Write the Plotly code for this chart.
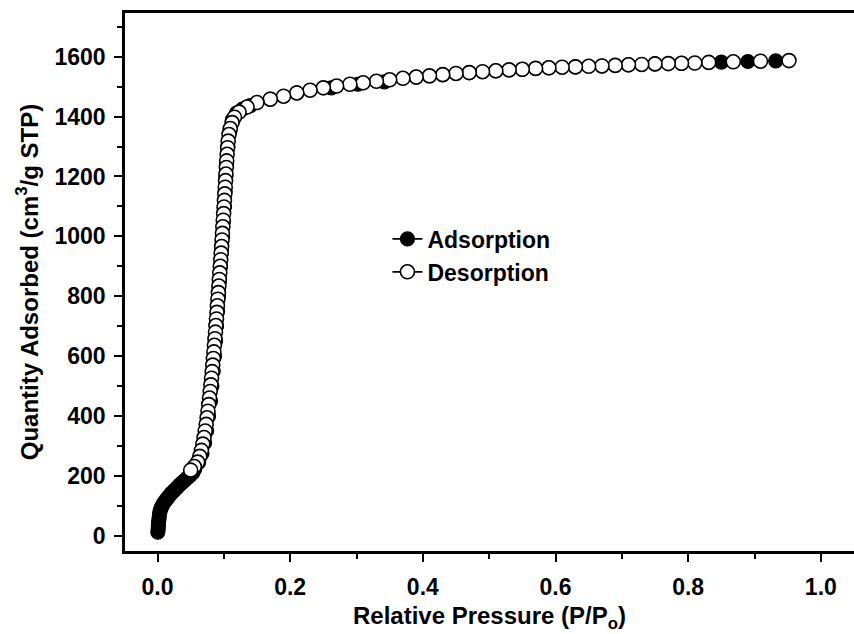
import plotly.graph_objects as go

# ---- data ----
ads_p = [0.0005, 0.001, 0.0012, 0.0015, 0.002, 0.0025, 0.003, 0.004, 0.005, 0.007,
         0.009, 0.012, 0.015, 0.018, 0.021, 0.025, 0.029, 0.033, 0.037, 0.041,
         0.045, 0.049, 0.053, 0.056, 0.062, 0.067, 0.071, 0.074, 0.077, 0.080,
         0.082, 0.084, 0.086, 0.0875, 0.089, 0.0905, 0.092, 0.0935, 0.095, 0.0965,
         0.098, 0.0995, 0.101, 0.102, 0.103, 0.104, 0.106, 0.109, 0.113, 0.119,
         0.128, 0.14, 0.17, 0.21, 0.262, 0.302, 0.342, 0.39, 0.43, 0.47,
         0.51, 0.55, 0.59, 0.63, 0.67, 0.71, 0.75, 0.79, 0.85, 0.89, 0.932]
ads_q = [12, 22, 32, 42, 52, 62, 72, 82, 91, 100,
         108, 117, 126, 134, 142, 151, 160, 169, 177, 185,
         193, 201, 210, 222, 245, 275, 310, 350, 400, 450,
         500, 550, 600, 650, 700, 750, 800, 850, 900, 950,
         1000, 1050, 1100, 1150, 1200, 1250, 1300, 1350, 1390, 1412,
         1425, 1437, 1458, 1479, 1496, 1508, 1516, 1532, 1540, 1547,
         1553, 1558, 1563, 1566, 1569, 1573, 1576, 1578, 1582, 1584, 1586]

des_p = [0.952, 0.909, 0.868, 0.831, 0.81, 0.79, 0.77, 0.75, 0.73, 0.71,
         0.69, 0.67, 0.65, 0.63, 0.61, 0.59, 0.57, 0.55, 0.53, 0.51,
         0.49, 0.47, 0.45, 0.43, 0.41, 0.39, 0.37, 0.35, 0.33, 0.31,
         0.29, 0.27, 0.25, 0.23, 0.21, 0.19, 0.17, 0.15, 0.135, 0.123,
         0.116, 0.1125, 0.1097, 0.1078, 0.1066, 0.1057, 0.1050, 0.1043, 0.1038, 0.1032,
         0.1026, 0.1021, 0.1015, 0.1009, 0.1003, 0.0997, 0.0991, 0.0985, 0.0979, 0.0973,
         0.0967, 0.0960, 0.0953, 0.0946, 0.0939, 0.0932, 0.0925, 0.0918, 0.0910, 0.0903,
         0.0896, 0.0889, 0.0881, 0.0874, 0.0866, 0.0858, 0.0850, 0.0842, 0.0833, 0.0824,
         0.0815, 0.0805, 0.0795, 0.0784, 0.0773, 0.0761, 0.0748, 0.0734, 0.0719, 0.0702,
         0.0683, 0.0662, 0.0637, 0.0606, 0.0555, 0.050]
des_q = [1587, 1585, 1583, 1581, 1579, 1578, 1577, 1576, 1574, 1573,
         1571, 1569, 1568, 1566, 1565, 1563, 1561, 1558, 1556, 1553,
         1550, 1547, 1544, 1540, 1536, 1532, 1528, 1523, 1518, 1513,
         1508, 1502, 1496, 1488, 1479, 1468, 1458, 1447, 1432, 1415,
         1398, 1380, 1360, 1340, 1318, 1296, 1274, 1252, 1230, 1208,
         1186, 1164, 1142, 1120, 1098, 1076, 1054, 1032, 1010, 988,
         966, 944, 922, 900, 878, 856, 834, 812, 790, 768,
         746, 724, 702, 680, 658, 636, 614, 592, 570, 548,
         526, 504, 482, 460, 438, 416, 394, 372, 350, 328,
         306, 285, 265, 246, 231, 219]

x_ticks = [0.0, 0.2, 0.4, 0.6, 0.8, 1.0]
x_ticklabels = ["0.0", "0.2", "0.4", "0.6", "0.8", "1.0"]
y_ticks = [0, 200, 400, 600, 800, 1000, 1200, 1400, 1600]
y_ticklabels = ["0", "200", "400", "600", "800", "1000", "1200", "1400", "1600"]

FONT = "Liberation Sans, Arial, sans-serif"

fig = go.Figure()
fig.add_trace(go.Scatter(
    x=ads_p, y=ads_q, name="Adsorption", mode="lines+markers",
    legendgroup="a",
    line=dict(color="black", width=1.8),
    marker=dict(symbol="circle", size=14, color="black",
                line=dict(color="black", width=1.2)),
))
fig.add_trace(go.Scatter(
    x=des_p, y=des_q, name="Desorption", mode="lines+markers",
    legendgroup="d",
    line=dict(color="black", width=1.8),
    marker=dict(symbol="circle", size=14, color="white",
                line=dict(color="black", width=1.6)),
))

axis_common = dict(
    showgrid=False, zeroline=False, showline=True, linecolor="black",
    linewidth=2.5, ticks="outside", ticklen=8, tickwidth=2, tickcolor="black",
    tickfont=dict(family=FONT, size=23, color="black", weight="bold"),
)

fig.update_xaxes(
    **axis_common, range=[-0.049, 1.05], mirror=True,
    tickvals=x_ticks, ticktext=x_ticklabels, ticklabelstandoff=6,
    minor=dict(dtick=0.1, tick0=0, ticks="outside", ticklen=5, tickwidth=2, tickcolor="black"),
    title=dict(text="Relative Pressure (P/P<sub>o</sub>)", standoff=8,
               font=dict(family=FONT, size=24, color="black", weight="bold")),
)
fig.update_yaxes(
    **axis_common, range=[-51, 1746], mirror=False,
    tickvals=y_ticks, ticktext=y_ticklabels, ticklabelstandoff=4,
    minor=dict(dtick=100, tick0=0, ticks="outside", ticklen=5, tickwidth=2, tickcolor="black"),
    title=dict(text="Quantity Adsorbed (cm<sup>3</sup>/g STP)", standoff=10,
               font=dict(family=FONT, size=24, color="black", weight="bold")),
)

fig.update_layout(
    width=854, height=634,
    margin=dict(l=125, r=0, t=13, b=83),
    paper_bgcolor="white", plot_bgcolor="white",
    showlegend=True,
    legend=dict(x=0.36, y=0.62, xanchor="left", yanchor="top",
                bgcolor="rgba(0,0,0,0)", tracegroupgap=0,
                font=dict(family=FONT, size=23, color="black", weight="bold")),
)

fig.write_html("out.html")
